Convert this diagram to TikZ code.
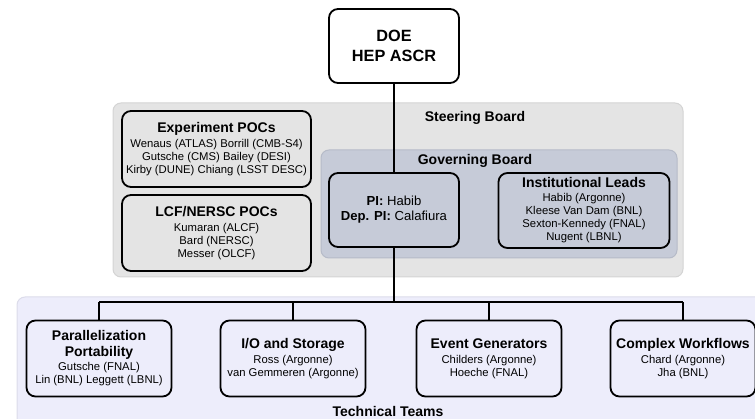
\documentclass[tikz,border=0pt]{standalone}
\usepackage{fontspec}
\setmainfont{Liberation Sans}
\usepackage{tikz}

\definecolor{steerfill}{HTML}{E4E4E4}
\definecolor{steerline}{HTML}{D4D4D4}
\definecolor{govfill}{HTML}{C6CBD8}
\definecolor{govline}{HTML}{B6BBC8}
\definecolor{techfill}{HTML}{EDEDFB}
\definecolor{techline}{HTML}{DCDCEA}

\newcommand\boxtitle[1]{{\fontsize{14}{16}\selectfont\bfseries #1}}

\begin{document}
\begin{tikzpicture}[x=1pt,y=-1pt,
    box/.style={draw=black,line width=1.8pt,rounded corners=9pt,align=center,
        inner sep=1pt,font=\fontsize{11.3}{13}\selectfont},
    panel/.style={line width=1pt,rounded corners=8pt},
    panellab/.style={font=\fontsize{14}{16}\selectfont\bfseries},
    link/.style={line width=1.8pt}]
    \useasboundingbox (0,0) rectangle (755,419);

    \path[panel,fill=steerfill,draw=steerline] (113,103) rectangle (683,277);
    \path[panel,fill=govfill,draw=govline] (321,150) rectangle (677,258);
    \path[panel,fill=techfill,draw=techline] (17,297) rectangle (790,450);

    \node[panellab] (steerlab) at (475,118) {Steering Board};
    \node[panellab] (govlab) at (475,161) {Governing Board};
    \node[panellab] (techlab) at (388,411) {Technical Teams};

    \node[box,fill=white,minimum width=130pt,minimum height=74pt,
        font=\fontsize{16.3}{20}\selectfont\bfseries] (doe) at (394,46) {DOE\\HEP ASCR};

    \node[box,fill=steerfill,minimum width=189pt,minimum height=76pt] (expoc) at (216.5,149)
        {\boxtitle{Experiment POCs}\\[2pt] Wenaus (ATLAS) Borrill (CMB-S4)\\ Gutsche (CMS) Bailey (DESI)\\ Kirby (DUNE) Chiang (LSST DESC)};
    \node[box,fill=steerfill,minimum width=189pt,minimum height=76pt] (lcfpoc) at (216.5,233)
        {\boxtitle{LCF/NERSC POCs}\\[2pt] Kumaran (ALCF)\\ Bard (NERSC)\\ Messer (OLCF)};

    \node[box,fill=govfill,minimum width=130pt,minimum height=74pt,
        font=\fontsize{13.1}{15}\selectfont] (pi) at (394,210)
        {\textbf{PI:} Habib\\ \textbf{Dep. PI:} Calafiura};
    \node[box,fill=govfill,minimum width=171pt,minimum height=75pt] (instlead) at (584,210.5)
        {\boxtitle{Institutional Leads}\\[1pt] Habib (Argonne)\\ Kleese Van Dam (BNL)\\ Sexton-Kennedy (FNAL)\\ Nugent (LBNL)};

    \foreach \name/\x/\txt in {
        par/99/{\boxtitle{Parallelization}\\[3pt] \boxtitle{Portability}\\[1pt] Gutsche (FNAL)\\ Lin (BNL) Leggett (LBNL)},
        io/293/{\boxtitle{I/O and Storage}\\[2pt] Ross (Argonne)\\ van Gemmeren (Argonne)},
        evgen/489/{\boxtitle{Event Generators}\\[2pt] Childers (Argonne)\\ Hoeche (FNAL)},
        flows/683/{\boxtitle{Complex Workflows}\\[2pt] Chard (Argonne)\\ Jha (BNL)}} {
        \node[box,fill=techfill,minimum width=145pt,minimum height=76pt] (\name) at (\x,358.5) {\txt};
    }

    \coordinate (bus) at (394,302);
    \draw[link] (doe) -- (pi);
    \draw[link] (pi) -- (bus);
    \draw[link] (par.north |- bus) -- (flows.north |- bus);
    \foreach \name in {par,io,evgen,flows} {
        \draw[link] (\name.north |- bus) -- (\name.north);
    }
\end{tikzpicture}
\end{document}
